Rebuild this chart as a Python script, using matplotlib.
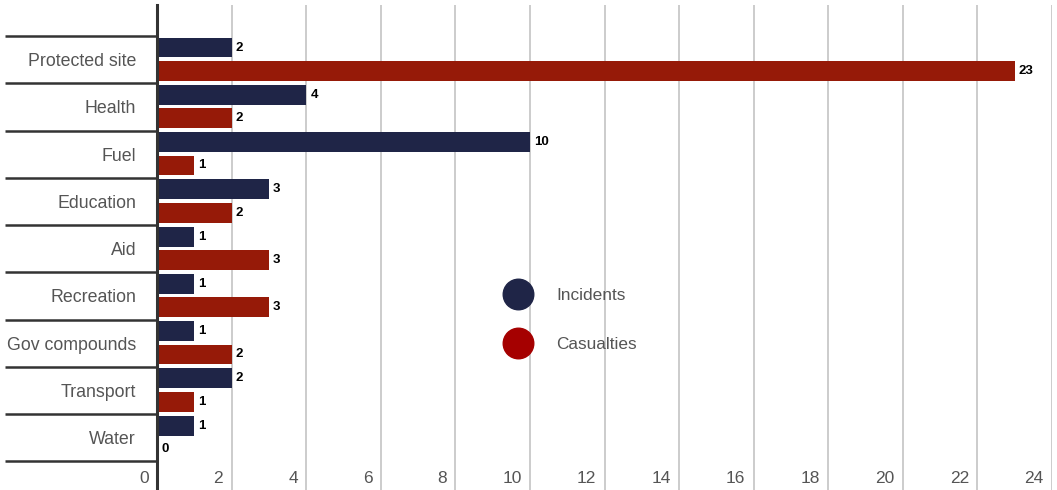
import matplotlib.pyplot as plt
import matplotlib.transforms as mtransforms
from matplotlib.lines import Line2D

plt.rcParams['font.family'] = ['Liberation Sans', 'DejaVu Sans']

# Data
categories = ['Protected site', 'Health', 'Fuel', 'Education', 'Aid',
              'Recreation', 'Gov compounds', 'Transport', 'Water']
incidents = [2, 4, 10, 3, 1, 1, 1, 2, 1]
casualties = [23, 2, 1, 2, 3, 3, 2, 1, 0]
x_ticks = list(range(0, 25, 2))

navy = '#1f2547'
red = '#961a08'
text_grey = '#555555'

fig = plt.figure(figsize=(10.57, 4.9), dpi=100)
ax = fig.add_axes([157 / 1057, 0, 895 / 1057, 485 / 490])

pos = list(range(len(categories)))
h = 0.42
ax.barh([p - 0.255 for p in pos], incidents, height=h, color=navy, zorder=3)
ax.barh([p + 0.24 for p in pos], casualties, height=h, color=red, zorder=3)

# value labels
for p, v in zip(pos, incidents):
    ax.annotate(str(v), (v, p - 0.255), xytext=(3, 0), textcoords='offset points',
                ha='left', va='center', fontsize=9.5, fontweight='bold', color='black')
for p, v in zip(pos, casualties):
    ax.annotate(str(v), (v, p + 0.24), xytext=(3, 0), textcoords='offset points',
                ha='left', va='center', fontsize=9.5, fontweight='bold', color='black')

ax.set_xlim(0, 24)
ax.set_ylim(9.108, -1.156)

# grid lines
for t in x_ticks[1:]:
    ax.axvline(t, color='#cccccc', lw=1.4, zorder=1)

# x tick labels drawn inside the axes, left of each gridline
for t in x_ticks:
    ax.annotate(str(t), (t, 8.875), xytext=(-6, 0), textcoords='offset points',
                ha='right', va='center', fontsize=12.5, color=text_grey)
ax.set_xticks([])

# category labels
ax.set_yticks(pos)
ax.set_yticklabels(categories, fontsize=12.8, color=text_grey)
ax.tick_params(axis='y', length=0, pad=15)

for s in ['top', 'right', 'bottom']:
    ax.spines[s].set_visible(False)
ax.spines['left'].set_color('#333333')
ax.spines['left'].set_linewidth(2.2)
ax.spines['left'].set_zorder(5)

# separators between categories, left of the axis
sep = mtransforms.blended_transform_factory(ax.transAxes, ax.transData)
for b in range(len(categories) + 1):
    ax.plot([-152 / 895, 0], [b - 0.5, b - 0.5], transform=sep, color='#333333',
            lw=1.8, clip_on=False, solid_capstyle='butt')

handles = [Line2D([], [], marker='o', ls='', ms=22, color=navy, label='Incidents'),
           Line2D([], [], marker='o', ls='', ms=22, color='#a50000', label='Casualties')]
leg = ax.legend(handles=handles, loc='center left', bbox_to_anchor=(494 / 1057, 170 / 490),
                bbox_transform=fig.transFigure, frameon=False, fontsize=12.4,
                labelspacing=2.0, handletextpad=1.2, borderaxespad=0)
for txt in leg.get_texts():
    txt.set_color(text_grey)

fig.savefig('out.png', dpi=100)
